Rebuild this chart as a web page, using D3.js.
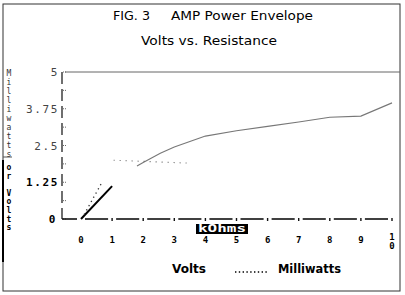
<!DOCTYPE html>
<html>
  <head>
    <meta charset="utf-8" />
    <title>AMP Power Envelope</title>
    <script src="https://d3js.org/d3.v7.min.js"></script>
    <style>
      body { margin: 0; background: #fff; }
      svg { display: block; }
    </style>
  </head>
  <body>
    <svg width="405" height="295"></svg>

    <script>
      // Data
      var xTicks = [0, 1, 2, 3, 4, 5, 6, 7, 8, 9, 10];
      var yTicks = [0, 1.25, 2.5, 3.75, 5];
      var yMinor = [0.625, 1.875, 3.125, 4.375];

      // Volts, low range (heavy black)
      var voltsLowR = [0, 1];
      var voltsLow = [0, 1.12];
      // Volts, high range (thin grey)
      var voltsHighR = [1.8, 2, 2.55, 3, 4, 5, 6, 7, 8, 9, 10];
      var voltsHigh = [1.8, 1.92, 2.24, 2.45, 2.82, 3.0, 3.15, 3.3, 3.46, 3.5, 3.95];
      // Milliwatts (dotted)
      var mwLowR = [0.1, 0.65];
      var mwLow = [0.15, 1.2];
      var mwHighR = [1.05, 3.45];
      var mwHigh = [2.0, 1.9];

      var svg = d3.select("svg");

      var x = d3.scaleLinear().domain([0, 10]).range([81, 392]);
      var y = d3.scaleLinear().domain([0, 5]).range([219, 72]);

      var mono = "'DejaVu Sans Mono', 'Liberation Mono', monospace";
      var sans = "'DejaVu Sans', 'Liberation Sans', sans-serif";

      // frame
      svg.append("rect")
        .attr("x", 3).attr("y", 4)
        .attr("width", 397).attr("height", 287)
        .attr("fill", "none")
        .attr("stroke", "#333")
        .attr("stroke-width", 1);
      svg.append("line")
        .attr("x1", 3).attr("x2", 3).attr("y1", 160).attr("y2", 262)
        .attr("stroke", "#000").attr("stroke-width", 2);
      svg.append("line")
        .attr("x1", 3).attr("x2", 12).attr("y1", 157).attr("y2", 157)
        .attr("stroke", "#555").attr("stroke-width", 1);

      // titles
      svg.append("text").attr("x", 113).attr("y", 20)
        .attr("textLength", 37).attr("lengthAdjust", "spacingAndGlyphs")
        .style("font-family", sans).style("font-size", "12.5px")
        .text("FIG. 3");
      svg.append("text").attr("x", 171).attr("y", 20)
        .attr("textLength", 142).attr("lengthAdjust", "spacingAndGlyphs")
        .style("font-family", sans).style("font-size", "12.5px")
        .text("AMP Power Envelope");
      svg.append("text").attr("x", 141).attr("y", 45)
        .attr("textLength", 136).attr("lengthAdjust", "spacingAndGlyphs")
        .style("font-family", sans).style("font-size", "12.5px")
        .text("Volts vs. Resistance");

      // top line at 5
      svg.append("line")
        .attr("x1", 65).attr("x2", 400)
        .attr("y1", y(5)).attr("y2", y(5))
        .attr("stroke", "#666").attr("stroke-width", 1);

      // y axis (dashed)
      svg.append("line")
        .attr("x1", 62).attr("x2", 62)
        .attr("y1", y(5)).attr("y2", y(0))
        .attr("stroke", "#222").attr("stroke-width", 1.3)
        .attr("stroke-dasharray", "12,5");

      // y tick marks
      svg.selectAll(".ytick")
        .data(yTicks.concat(yMinor))
        .enter()
        .append("line")
        .attr("class", "ytick")
        .attr("x1", 63).attr("x2", 67)
        .attr("y1", function (d) { return y(d); })
        .attr("y2", function (d) { return y(d); })
        .attr("stroke", "#666")
        .attr("stroke-dasharray", "1,1");

      // y tick labels
      svg.selectAll(".ylab")
        .data(yTicks)
        .enter()
        .append("text")
        .attr("class", "ylab")
        .attr("x", function (d) { return d === 0 ? 57 : 59; })
        .attr("y", function (d) { return y(d) + 4; })
        .attr("text-anchor", "end")
        .style("font-family", mono)
        .style("font-size", "11px")
        .style("letter-spacing", "1.6px")
        .style("font-weight", function (d) { return d <= 1.25 ? "bold" : "normal"; })
        .style("fill", function (d) { return d <= 1.25 ? "#000" : "#444"; })
        .text(function (d) { return d; });

      // x axis: dashes between ticks
      var xSeg = [-0.6].concat(xTicks.slice(0, 10));
      svg.selectAll(".xdash")
        .data(xSeg)
        .enter()
        .append("line")
        .attr("class", "xdash")
        .attr("x1", function (d) { return d < 0 ? 62 : x(d) + 4; })
        .attr("x2", function (d) { return d < 0 ? 77 : x(d + 1) - 4; })
        .attr("y1", y(0)).attr("y2", y(0))
        .attr("stroke", "#111").attr("stroke-width", 1.6);
      svg.selectAll(".xtick")
        .data(xTicks.slice(1))
        .enter()
        .append("line")
        .attr("class", "xtick")
        .attr("x1", function (d) { return x(d); })
        .attr("x2", function (d) { return x(d); })
        .attr("y1", y(0) - 1).attr("y2", y(0) + 2)
        .attr("stroke", "#111").attr("stroke-width", 1.4);

      // x tick labels ("10" is stacked)
      svg.selectAll(".xlab")
        .data(xTicks)
        .enter()
        .append("text")
        .attr("class", "xlab")
        .attr("x", function (d) { return x(d); })
        .attr("y", function (d) { return d === 10 ? 240 : 243; })
        .attr("text-anchor", "middle")
        .style("font-family", mono)
        .style("font-size", "9px")
        .style("font-weight", "bold")
        .text(function (d) { return d === 10 ? "1" : d; });
      svg.append("text")
        .attr("x", x(10)).attr("y", 249)
        .attr("text-anchor", "middle")
        .style("font-family", mono).style("font-size", "9px").style("font-weight", "bold")
        .text("0");

      // kOhms label
      svg.append("rect")
        .attr("x", 196).attr("y", 224)
        .attr("width", 52).attr("height", 10)
        .attr("fill", "#000");
      svg.append("text")
        .attr("x", 222).attr("y", 232)
        .attr("text-anchor", "middle")
        .attr("textLength", 48).attr("lengthAdjust", "spacingAndGlyphs")
        .style("font-family", mono).style("font-size", "10px").style("font-weight", "bold")
        .style("fill", "#fff")
        .text("kOhms");

      // stacked y axis title
      var t1 = "Milliwatts".split("");
      svg.selectAll(".ytitle1")
        .data(t1)
        .enter()
        .append("text")
        .attr("class", "ytitle1")
        .attr("x", 9)
        .attr("y", function (d, i) { return 76 + i * 9; })
        .attr("text-anchor", "middle")
        .style("font-family", mono).style("font-size", "8px")
        .style("fill", "#333")
        .text(function (d) { return d; });
      var t2 = ["o", "r", "", "V", "o", "l", "t", "s"];
      svg.selectAll(".ytitle2")
        .data(t2)
        .enter()
        .append("text")
        .attr("class", "ytitle2")
        .attr("x", 9)
        .attr("y", function (d, i) { return 170 + i * 8.6; })
        .attr("text-anchor", "middle")
        .style("font-family", mono).style("font-size", "8px").style("font-weight", "bold")
        .text(function (d) { return d; });

      // lines
      var line = d3.line()
        .x(function (d) { return x(d[0]); })
        .y(function (d) { return y(d[1]); });

      function pairs(rs, vs) {
        return rs.map(function (r, i) { return [r, vs[i]]; });
      }

      svg.append("path")
        .datum(pairs(voltsLowR, voltsLow))
        .attr("d", line)
        .attr("fill", "none")
        .attr("stroke", "#000")
        .attr("stroke-width", 2);

      svg.append("path")
        .datum(pairs(voltsHighR, voltsHigh))
        .attr("d", line)
        .attr("fill", "none")
        .attr("stroke", "#777")
        .attr("stroke-width", 1.1);

      svg.append("path")
        .datum(pairs(mwLowR, mwLow))
        .attr("d", line)
        .attr("fill", "none")
        .attr("stroke", "#333")
        .attr("stroke-width", 1.3)
        .attr("stroke-dasharray", "1.3,3.5");

      svg.append("path")
        .datum(pairs(mwHighR, mwHigh))
        .attr("d", line)
        .attr("fill", "none")
        .attr("stroke", "#666")
        .attr("stroke-width", 1.1)
        .attr("stroke-dasharray", "1,5");

      // legend
      svg.append("text")
        .attr("x", 172).attr("y", 273)
        .attr("textLength", 34).attr("lengthAdjust", "spacingAndGlyphs")
        .style("font-family", sans).style("font-size", "13px").style("font-weight", "bold")
        .text("Volts");
      svg.append("line")
        .attr("x1", 235).attr("x2", 269)
        .attr("y1", 272).attr("y2", 272)
        .attr("stroke", "#000").attr("stroke-width", 1.5)
        .attr("stroke-dasharray", "1.4,2.4");
      svg.append("text")
        .attr("x", 278).attr("y", 273)
        .attr("textLength", 63).attr("lengthAdjust", "spacingAndGlyphs")
        .style("font-family", sans).style("font-size", "13px").style("font-weight", "bold")
        .text("Milliwatts");
    </script>
  </body>
</html>
